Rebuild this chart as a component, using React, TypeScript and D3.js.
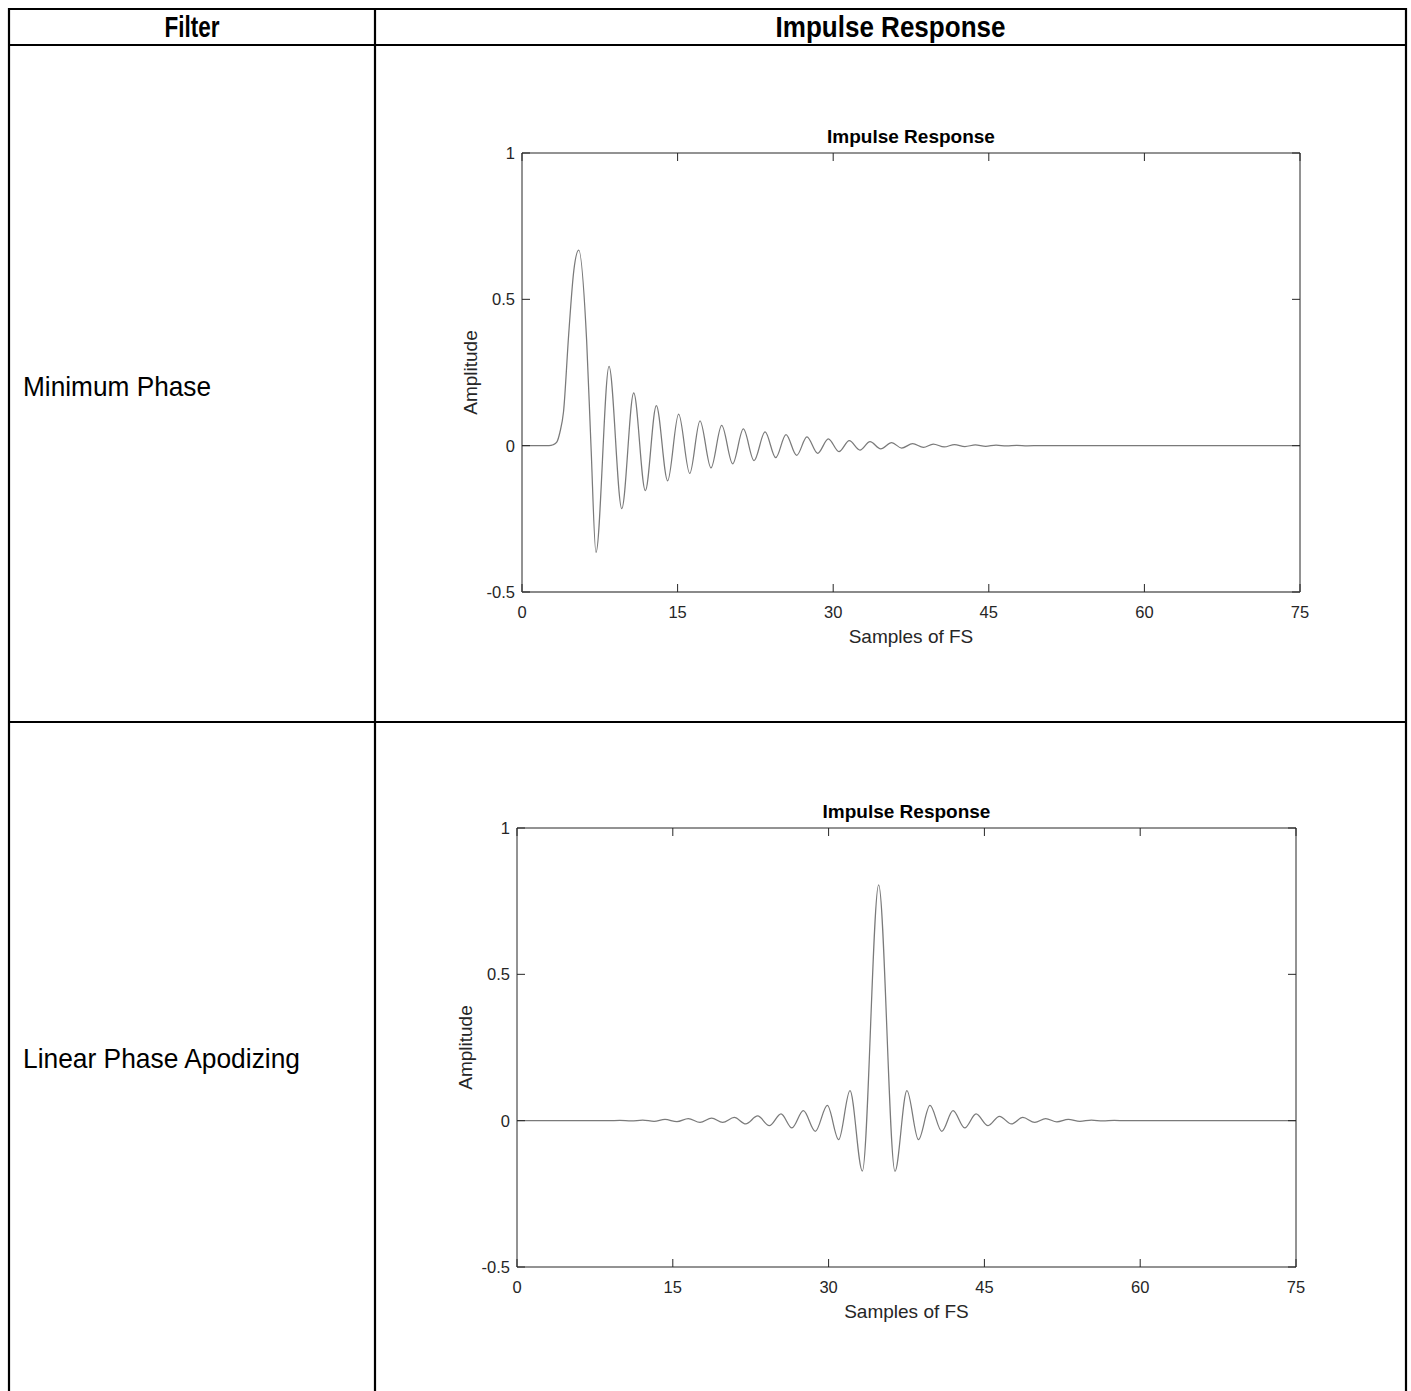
import React from "react";
import * as d3 from "d3";

// ---- data ----
const filterNames = ["Minimum Phase", "Linear Phase Apodizing"];
const headerLabels = ["Filter", "Impulse Response"];
const chartTitle = "Impulse Response";
const xAxisLabel = "Samples of FS";
const yAxisLabel = "Amplitude";

const xTicks = [0, 15, 30, 45, 60, 75];
const yTicks = [-0.5, 0, 0.5, 1];
const yTickLabels = ["-0.5", "0", "0.5", "1"];

// Minimum phase impulse response (extrema + shape points)
const minPhaseSamples = [
  0, 2.6, 3.0, 3.35, 3.65, 4.0, 4.5, 5.0, 5.47, 6.23, 6.65, 7.13, 8.39, 9.62, 10.77, 11.89,
  12.95, 14.04, 15.1, 16.17, 17.16, 18.22, 19.25, 20.31, 21.34, 22.37, 23.43, 24.46, 25.45,
  26.48, 27.47, 28.5, 29.53, 30.56, 31.55, 32.58, 33.55, 34.58, 35.64, 36.6, 37.66, 38.7,
  39.65, 40.7, 41.7, 42.7, 43.7, 44.7, 45.7, 46.7, 47.7, 48.7, 50, 75,
];
const minPhaseAmplitude = [
  0, 0, 0.003, 0.012, 0.045, 0.115, 0.38, 0.6, 0.668, 0.36, 0, -0.365, 0.271, -0.215, 0.18,
  -0.154, 0.137, -0.12, 0.108, -0.095, 0.085, -0.076, 0.069, -0.062, 0.057, -0.051, 0.047,
  -0.041, 0.038, -0.033, 0.03, -0.026, 0.023, -0.0205, 0.017, -0.015, 0.0135, -0.011, 0.01,
  -0.008, 0.0068, -0.006, 0.0055, -0.0045, 0.0038, -0.003, 0.0025, -0.002, 0.0015, -0.001,
  0.0008, -0.0004, 0, 0,
];

// Linear phase apodizing impulse response
const linPhaseSamples = [
  0, 8.8, 9.9, 11.0, 12.1, 13.2, 14.25, 15.4, 16.49, 17.62, 18.74, 19.8, 20.92, 22.02, 23.17,
  24.29, 25.42, 26.47, 27.57, 28.72, 29.88, 30.97, 32.06, 33.25, 34.82, 36.39, 37.54, 38.65,
  39.76, 40.9, 41.98, 43.1, 44.2, 45.35, 46.45, 47.6, 48.7, 49.85, 50.9, 51.98, 53.07, 54.2,
  55.3, 56.4, 57.5, 58.6, 60, 75,
];
const linPhaseAmplitude = [
  0, 0, 0.0008, -0.001, 0.0015, -0.002, 0.004, -0.003, 0.007, -0.006, 0.009, -0.006, 0.011,
  -0.011, 0.016, -0.017, 0.023, -0.025, 0.034, -0.0365, 0.052, -0.065, 0.1025, -0.172, 0.806,
  -0.173, 0.1025, -0.065, 0.052, -0.0365, 0.034, -0.025, 0.023, -0.017, 0.015, -0.011, 0.011,
  -0.006, 0.007, -0.004, 0.004, -0.002, 0.0015, -0.001, 0.0008, 0, 0, 0,
];

const W = 1411;
const H = 1391;
const AX = "#262626";
const narrow = "'Liberation Sans Narrow', 'Arial Narrow', 'Liberation Sans', Arial, sans-serif";
const sans = "'Liberation Sans', Arial, Helvetica, sans-serif";

type Box = { left: number; right: number; top: number; bottom: number; bottomColor: string; bottomWidth: number };

function Plot({ box, xs, ys }: { box: Box; xs: number[]; ys: number[] }) {
  const x = d3.scaleLinear().domain([0, 75]).range([box.left, box.right]);
  const y = d3.scaleLinear().domain([-0.5, 1]).range([box.bottom, box.top]);
  const pts: [number, number][] = xs.map((v, i) => [v, ys[i]]);
  const line = d3
    .line<[number, number]>()
    .x((d) => x(d[0]))
    .y((d) => y(d[1]))
    .curve(d3.curveMonotoneX);
  const tl = 8;
  const cx = (box.left + box.right) / 2;
  const cy = (box.top + box.bottom) / 2;
  return (
    <g>
      <path d={line(pts) || ""} fill="none" stroke="#7a7a7a" strokeWidth={1.25} />
      {/* box */}
      <line x1={box.left} x2={box.right} y1={box.top} y2={box.top} stroke={AX} strokeWidth={1} />
      <line x1={box.right} x2={box.right} y1={box.top} y2={box.bottom} stroke={AX} strokeWidth={1} />
      <line x1={box.left} x2={box.left} y1={box.top} y2={box.bottom} stroke={AX} strokeWidth={1} />
      <line
        x1={box.left}
        x2={box.right}
        y1={box.bottom}
        y2={box.bottom}
        stroke={box.bottomColor}
        strokeWidth={box.bottomWidth}
      />
      {xTicks.map((t) => (
        <g key={"x" + t}>
          <line x1={x(t)} x2={x(t)} y1={box.bottom} y2={box.bottom - tl} stroke={AX} strokeWidth={1} />
          <line x1={x(t)} x2={x(t)} y1={box.top} y2={box.top + tl} stroke={AX} strokeWidth={1} />
          <text
            x={x(t)}
            y={box.bottom + 26}
            textAnchor="middle"
            fontSize={16.5}
            fontFamily={sans}
            fill={AX}
          >
            {String(t)}
          </text>
        </g>
      ))}
      {yTicks.map((t, i) => (
        <g key={"y" + t}>
          <line x1={box.left} x2={box.left + tl} y1={y(t)} y2={y(t)} stroke={AX} strokeWidth={1} />
          <line x1={box.right} x2={box.right - tl} y1={y(t)} y2={y(t)} stroke={AX} strokeWidth={1} />
          <text
            x={box.left - 7}
            y={y(t)}
            dy="0.36em"
            textAnchor="end"
            fontSize={16.5}
            fontFamily={sans}
            fill={AX}
          >
            {yTickLabels[i]}
          </text>
        </g>
      ))}
      <text
        x={cx}
        y={box.top - 10}
        textAnchor="middle"
        fontSize={19}
        fontWeight="bold"
        fontFamily={sans}
        fill="#000"
      >
        {chartTitle}
      </text>
      <text x={cx} y={box.bottom + 51} textAnchor="middle" fontSize={19} fontFamily={sans} fill={AX}>
        {xAxisLabel}
      </text>
      <text
        transform={`translate(${box.left - 45},${cy}) rotate(-90)`}
        textAnchor="middle"
        fontSize={19}
        fontFamily={sans}
        fill={AX}
      >
        {yAxisLabel}
      </text>
    </g>
  );
}

export default function App() {
  const tL = 9;
  const tR = 1406;
  const tT = 9;
  const colX = 375;
  const headY = 45;
  const rowY = 722;
  const boxes: Box[] = [
    { left: 522, right: 1300, top: 153, bottom: 592, bottomColor: "#8a8a8a", bottomWidth: 2 },
    { left: 517, right: 1296, top: 828, bottom: 1267, bottomColor: AX, bottomWidth: 1 },
  ];
  const series = [
    { xs: minPhaseSamples, ys: minPhaseAmplitude },
    { xs: linPhaseSamples, ys: linPhaseAmplitude },
  ];
  const rowCenters = [386, 1058];
  return (
    <svg
      width={W}
      height={H}
      style={{ position: "absolute", left: 0, top: 0, background: "#fff" }}
      xmlns="http://www.w3.org/2000/svg"
    >
      <rect x={0} y={0} width={W} height={H} fill="#fff" />
      {/* table grid */}
      <line x1={tL} x2={tR} y1={tT} y2={tT} stroke="#000" strokeWidth={2.2} />
      <line x1={tL} x2={tR} y1={headY} y2={headY} stroke="#000" strokeWidth={2.2} />
      <line x1={tL} x2={tR} y1={rowY} y2={rowY} stroke="#000" strokeWidth={2.2} />
      <line x1={tL} x2={tL} y1={tT - 1} y2={H} stroke="#000" strokeWidth={2.2} />
      <line x1={colX} x2={colX} y1={tT} y2={H} stroke="#000" strokeWidth={2.2} />
      <line x1={tR} x2={tR} y1={tT - 1} y2={H} stroke="#000" strokeWidth={2.2} />
      {/* header */}
      <text
        x={(tL + colX) / 2}
        y={37}
        textAnchor="middle"
        fontSize={29}
        fontWeight="bold"
        fontFamily={narrow}
        textLength={55}
        lengthAdjust="spacingAndGlyphs"
      >
        {headerLabels[0]}
      </text>
      <text
        x={(colX + tR) / 2}
        y={37}
        textAnchor="middle"
        fontSize={29}
        fontWeight="bold"
        fontFamily={narrow}
        textLength={230}
        lengthAdjust="spacingAndGlyphs"
      >
        {headerLabels[1]}
      </text>
      {filterNames.map((n, i) => (
        <text
          key={n}
          x={23}
          y={rowCenters[i] + 10}
          fontSize={28.5}
          fontFamily={narrow}
          textLength={i === 0 ? 188 : 277}
          lengthAdjust="spacingAndGlyphs"
        >
          {n}
        </text>
      ))}
      {boxes.map((b, i) => (
        <Plot key={i} box={b} xs={series[i].xs} ys={series[i].ys} />
      ))}
    </svg>
  );
}
